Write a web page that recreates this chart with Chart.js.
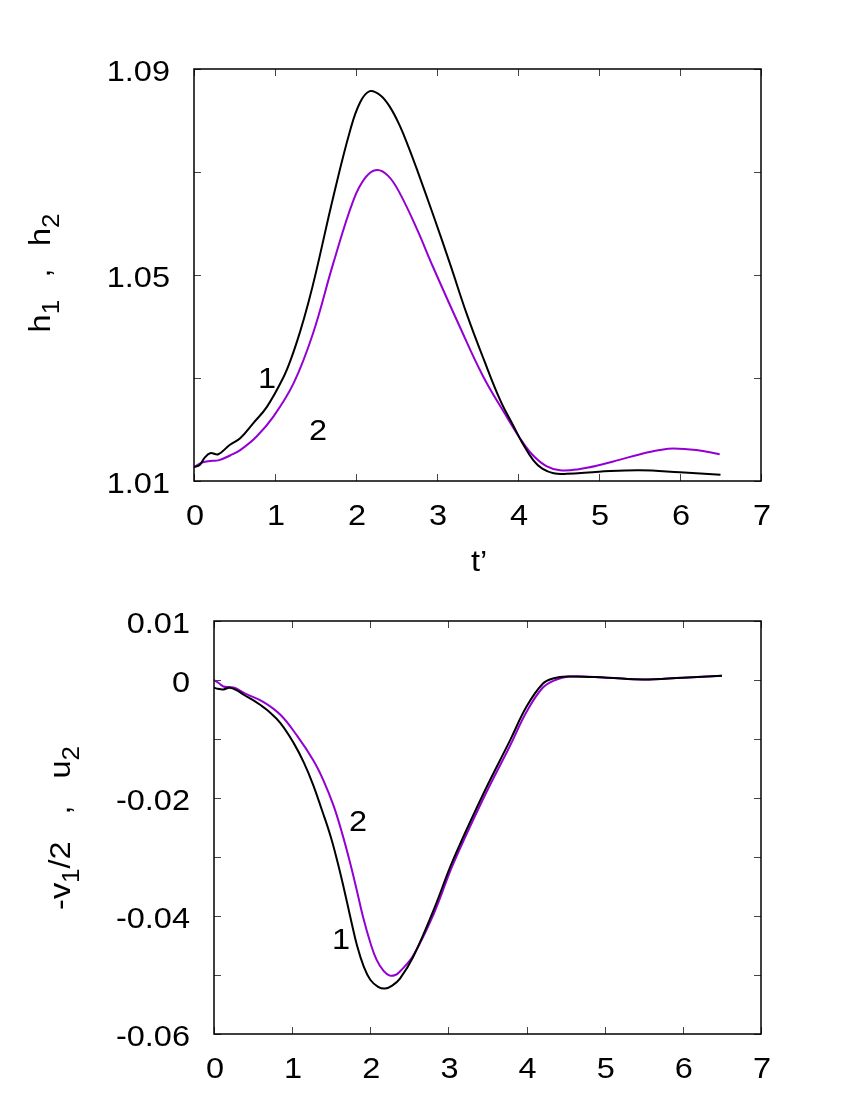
<!DOCTYPE html>
<html>
<head>
<meta charset="utf-8">
<script src="https://cdn.jsdelivr.net/npm/chart.js@4.4.1/dist/chart.umd.min.js"></script>
<style>
  body { margin: 0; background: #fff; }
  #wrap { position: relative; width: 850px; height: 1100px; }
  canvas { position: absolute; left: 0; }
  #top { top: 0; }
  #bottom { top: 590px; }
</style>
</head>
<body>
<div id="wrap">
  <canvas id="top" width="850" height="590"></canvas>
  <canvas id="bottom" width="850" height="510"></canvas>
</div>
<script>
// upper panel: h1 (curve 1) and h2 (curve 2) against t'
const tH1 = [0, 0.07, 0.13, 0.2, 0.3, 0.44, 0.57, 0.73, 0.9, 1.1, 1.2, 1.31, 1.41, 1.51, 1.72, 1.93, 2.05, 2.17, 2.3, 2.42, 2.54, 2.65, 2.75, 2.95, 3.16, 3.37, 3.58, 3.78, 3.95, 4.05, 4.19, 4.3, 4.44, 4.6, 5.0, 5.5, 6.0, 6.5];
const h1 = [1.0127, 1.0131, 1.0145, 1.0154, 1.0152, 1.0170, 1.0183, 1.0212, 1.0244, 1.0300, 1.0338, 1.0390, 1.0445, 1.0508, 1.0652, 1.0782, 1.0835, 1.0857, 1.0849, 1.0826, 1.0790, 1.0748, 1.0706, 1.0618, 1.0522, 1.0423, 1.0335, 1.0257, 1.0205, 1.0175, 1.0140, 1.0124, 1.0115, 1.0114, 1.0118, 1.0121, 1.0117, 1.0112];
const tH2 = [0, 0.1, 0.2, 0.3, 0.45, 0.57, 0.77, 0.98, 1.23, 1.47, 1.72, 1.97, 2.12, 2.26, 2.4, 2.54, 2.75, 2.95, 3.28, 3.57, 3.86, 4.05, 4.19, 4.35, 4.52, 4.75, 5.01, 5.25, 5.51, 5.75, 5.92, 6.2, 6.49];
const h2 = [1.0127, 1.0136, 1.0139, 1.0140, 1.0150, 1.0160, 1.0186, 1.0225, 1.0290, 1.0387, 1.0523, 1.0646, 1.0690, 1.0704, 1.0692, 1.0659, 1.0590, 1.0516, 1.0400, 1.0303, 1.0225, 1.0177, 1.0149, 1.0129, 1.0121, 1.0123, 1.0131, 1.0141, 1.0152, 1.0160, 1.0163, 1.0160, 1.0152];

// lower panel: -v1/2 (curve 1) and u2 (curve 2)
const tV1 = [0, 0.05, 0.12, 0.2, 0.3, 0.38, 0.5, 0.59, 0.68, 0.85, 1.02, 1.15, 1.27, 1.38, 1.49, 1.58, 1.66, 1.75, 1.83, 1.92, 2.0, 2.1, 2.19, 2.28, 2.38, 2.55, 2.81, 3.06, 3.45, 3.79, 4.0, 4.21, 4.35, 4.51, 5.03, 5.49, 6.0, 6.5];
const v1 = [-0.0013, -0.0015, -0.0016, -0.0013, -0.0018, -0.0025, -0.0034, -0.0042, -0.0051, -0.0073, -0.0107, -0.0140, -0.0178, -0.0220, -0.0264, -0.0308, -0.0352, -0.0405, -0.0450, -0.0487, -0.0508, -0.0520, -0.0523, -0.0518, -0.0506, -0.0469, -0.0390, -0.0305, -0.0192, -0.0102, -0.0045, -0.0006, 0.0003, 0.0006, 0.0004, 0.0001, 0.0004, 0.0007];
const tU2 = [0, 0.06, 0.12, 0.2, 0.26, 0.4, 0.63, 0.85, 1.06, 1.27, 1.4, 1.53, 1.64, 1.74, 1.83, 1.91, 2.0, 2.08, 2.17, 2.25, 2.32, 2.38, 2.55, 2.81, 3.06, 3.45, 3.79, 4.0, 4.2, 4.35, 4.55, 5.03, 5.49, 6.0, 6.5];
const u2 = [0.0000, -0.0005, -0.0011, -0.0012, -0.0013, -0.0023, -0.0037, -0.0059, -0.0094, -0.0136, -0.0170, -0.0213, -0.0260, -0.0309, -0.0358, -0.0403, -0.0445, -0.0474, -0.0493, -0.0501, -0.0500, -0.0494, -0.0467, -0.0397, -0.0312, -0.0200, -0.0111, -0.0054, -0.0014, -0.0001, 0.0006, 0.0004, 0.0001, 0.0004, 0.0007];

const xTicks = [0, 7, 1];            // min, max, step
const hTicks = [1.01, 1.09, 0.02];
const vTicks = [-0.06, 0.01, 0.01];

const FONT = '"Liberation Sans", Arial, sans-serif';
const FSIZE = 29;
const SX = 1.12;   // the reference glyphs are a little wider than Arial
const BLACK = '#000000';
const VIOLET = '#9400d3';

function pts(xs, ys) {
  return xs.map((x, i) => ({ x: x, y: ys[i] }));
}

function series(data, color) {
  return {
    data: data,
    borderColor: color,
    backgroundColor: color,
    borderWidth: 2,
    pointRadius: 0,
    showLine: true,
    tension: 0.4,
    fill: false
  };
}

function txt(ctx, s, x, y, align) {
  ctx.save();
  ctx.translate(x, y);
  ctx.scale(SX, 1);
  ctx.font = FSIZE + 'px ' + FONT;
  ctx.fillStyle = '#000';
  ctx.textAlign = align;
  ctx.textBaseline = 'alphabetic';
  ctx.fillText(s, 0, 0);
  ctx.restore();
}

// text with gnuplot-like subscripts, rotated
function drawRich(ctx, parts, cx, cy, rot) {
  ctx.save();
  ctx.translate(cx, cy);
  if (rot) ctx.rotate(rot);
  ctx.scale(SX, 1);
  ctx.fillStyle = '#000';
  ctx.textBaseline = 'alphabetic';
  ctx.textAlign = 'left';
  let total = 0;
  parts.forEach(p => {
    ctx.font = (p.sub ? FSIZE * 0.8 : FSIZE) + 'px ' + FONT;
    p.w = p.gap != null ? p.gap : ctx.measureText(p.t).width;
    total += p.w;
  });
  let x = -total / 2;
  const base = FSIZE * 0.36;
  parts.forEach(p => {
    if (p.t) {
      ctx.font = (p.sub ? FSIZE * 0.8 : FSIZE) + 'px ' + FONT;
      ctx.fillText(p.t, x, base + (p.sub ? FSIZE * 0.3 : 0));
    }
    x += p.w;
  });
  ctx.restore();
}

const framePlugin = {
  id: 'frame',
  afterDraw(chart, args, opts) {
    const ctx = chart.ctx;
    const a = chart.chartArea;
    const xs = chart.scales.x, ys = chart.scales.y;
    ctx.save();
    // inward tick marks on all four sides
    ctx.strokeStyle = '#444';
    ctx.lineWidth = 1;
    const L = 7;
    ctx.beginPath();
    xs.ticks.forEach(t => {
      const px = Math.round(xs.getPixelForValue(t.value)) + 0.5;
      ctx.moveTo(px, a.bottom); ctx.lineTo(px, a.bottom - L);
      ctx.moveTo(px, a.top); ctx.lineTo(px, a.top + L);
    });
    ys.ticks.forEach(t => {
      const py = Math.round(ys.getPixelForValue(t.value)) + 0.5;
      ctx.moveTo(a.left, py); ctx.lineTo(a.left + L, py);
      ctx.moveTo(a.right, py); ctx.lineTo(a.right - L, py);
    });
    ctx.stroke();
    ctx.strokeStyle = '#000';
    ctx.lineWidth = 1.5;
    ctx.strokeRect(a.left, a.top, a.right - a.left, a.bottom - a.top);
    ctx.restore();

    // tick labels, taken from the scales' own ticks
    xs.ticks.forEach(t => {
      txt(ctx, String(t.value), xs.getPixelForValue(t.value) + 1, a.bottom + 44, 'center');
    });
    ys.ticks.forEach(t => {
      const s = opts.yFmt(t.value);
      if (s) txt(ctx, s, a.left - 24, ys.getPixelForValue(t.value) + 11.5, 'right');
    });

    (opts.labels || []).forEach(l => txt(ctx, l.t, l.x, l.y + 10.4, 'center'));
    (opts.rich || []).forEach(r => drawRich(ctx, r.parts, r.x, r.y, r.rot));
  }
};

function axisOpts(range, extra) {
  return Object.assign({
    type: 'linear',
    min: range[0],
    max: range[1],
    grid: { display: false, drawTicks: false },
    border: { display: false },
    ticks: { display: false, stepSize: range[2] }
  }, extra);
}

function makeChart(id, cfg) {
  return new Chart(document.getElementById(id), {
    type: 'scatter',
    data: { datasets: cfg.datasets },
    options: {
      responsive: false,
      animation: false,
      devicePixelRatio: 1,
      layout: { padding: { left: 0, top: cfg.top, right: 89, bottom: 0 } },
      plugins: {
        legend: { display: false },
        tooltip: { enabled: false },
        frame: { labels: cfg.labels, rich: cfg.rich, yFmt: cfg.yFmt }
      },
      scales: {
        x: axisOpts(xTicks, { afterFit: s => { s.height = cfg.xh; } }),
        y: axisOpts(cfg.yTicks, { afterFit: s => { s.width = cfg.yw; } })
      }
    },
    plugins: [framePlugin]
  });
}

// top panel: plot area 194..761 x 69..481
makeChart('top', {
  datasets: [series(pts(tH1, h1), BLACK), series(pts(tH2, h2), VIOLET)],
  top: 69, xh: 590 - 481, yw: 194,
  yTicks: hTicks,
  yFmt: v => {
    const r = Math.round(v * 100);
    return (r - 101) % 4 === 0 ? (r / 100).toFixed(2) : '';
  },
  labels: [
    { t: '1', x: 267, y: 378 },
    { t: '2', x: 318, y: 430 },
    { t: 't\u2019', x: 479, y: 561 }
  ],
  rich: [{
    x: 40, y: 273, rot: -Math.PI / 2,
    parts: [{ t: 'h' }, { t: '1', sub: true }, { t: '', gap: 20 }, { t: ',' }, { t: '', gap: 20 }, { t: 'h' }, { t: '2', sub: true }]
  }]
});

// bottom panel: plot area 214..761 x 621..1034
makeChart('bottom', {
  datasets: [series(pts(tV1, v1), BLACK), series(pts(tU2, u2), VIOLET)],
  top: 621 - 590, xh: 1100 - 1034, yw: 214,
  yTicks: vTicks,
  yFmt: v => {
    const r = Math.round(v * 100);
    if (r === 1) return '0.01';
    if (r === 0) return '0';
    return r % 2 === 0 ? (r / 100).toFixed(2) : '';
  },
  labels: [
    { t: '2', x: 358, y: 821 - 590 },
    { t: '1', x: 341, y: 939 - 590 }
  ],
  rich: [{
    x: 60, y: 828 - 590, rot: -Math.PI / 2,
    parts: [{ t: '-v' }, { t: '1', sub: true }, { t: '/2' }, { t: '', gap: 24 }, { t: ',' }, { t: '', gap: 24 }, { t: 'u' }, { t: '2', sub: true }]
  }]
});
</script>
</body>
</html>
